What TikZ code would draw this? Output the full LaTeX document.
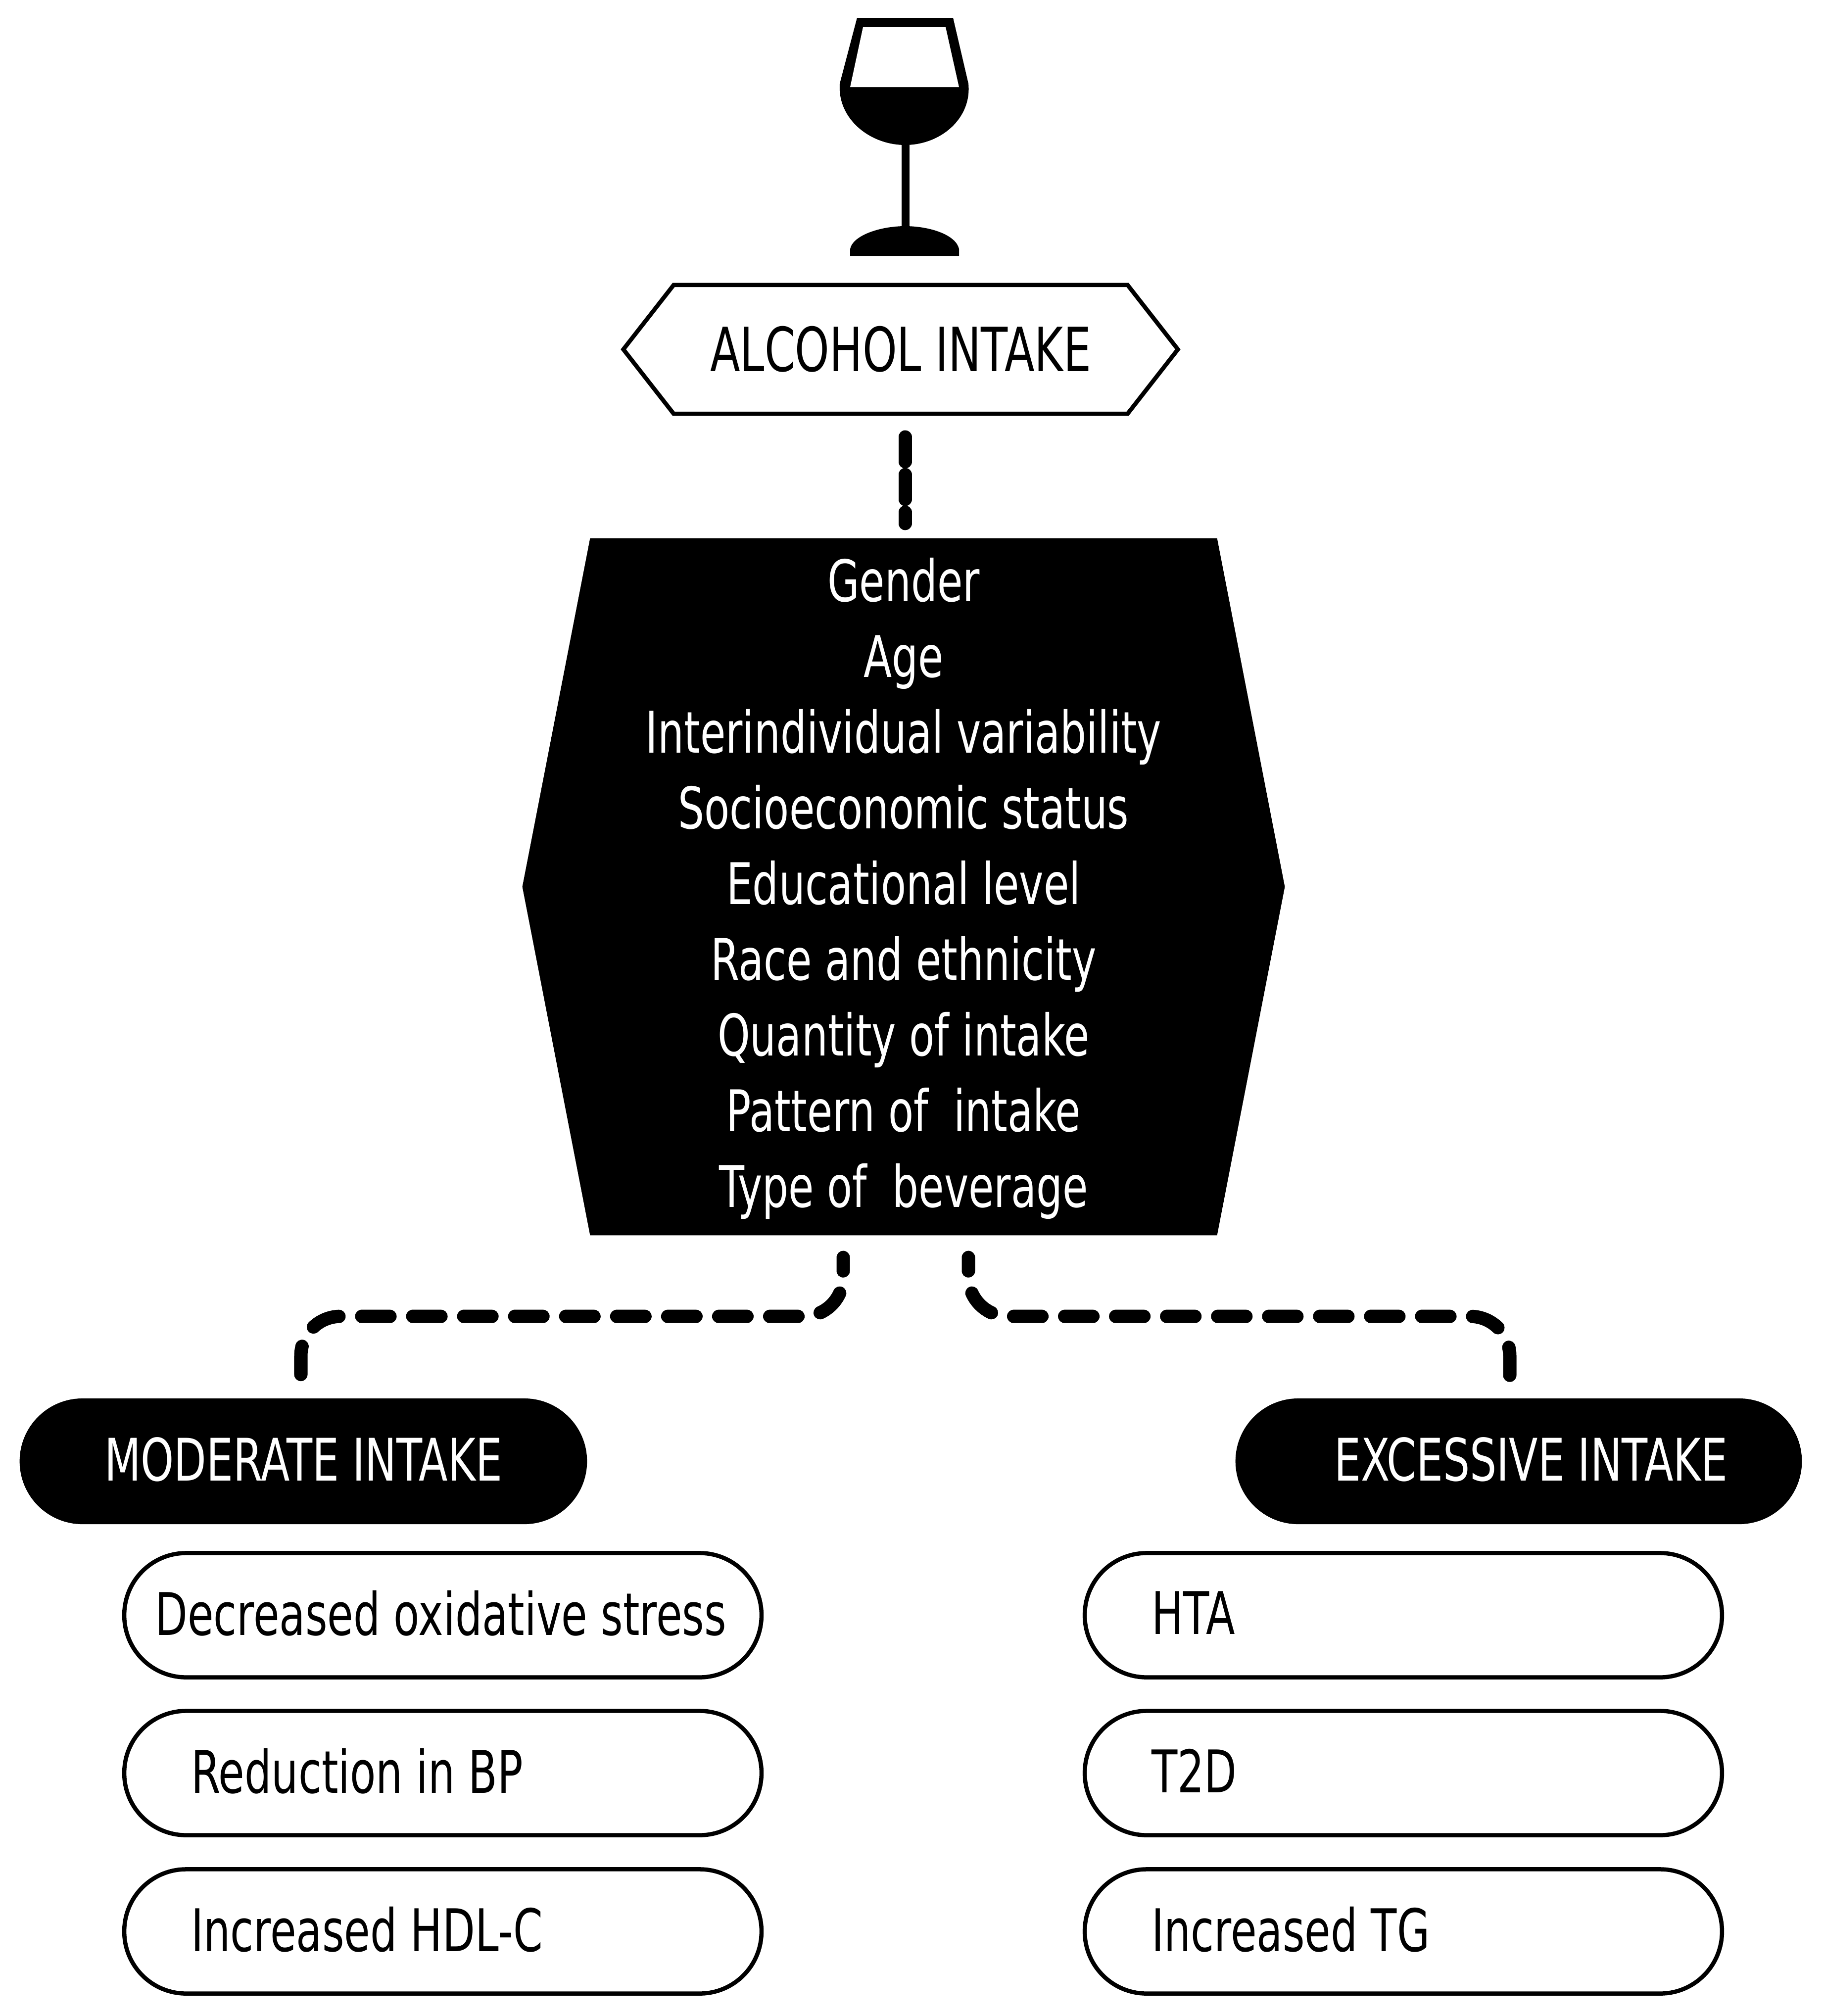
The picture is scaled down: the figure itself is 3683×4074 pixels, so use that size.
\documentclass[tikz,border=0pt]{standalone}
\usepackage{fontspec}
\setmainfont[FakeStretch=0.72]{DejaVu Sans}
\usetikzlibrary{calc}
\usetikzlibrary{shapes.misc}
\usetikzlibrary{shapes.symbols}
\newcommand{\labelfont}{\fontsize{33}{43.5}\selectfont}
\newcommand{\itemfont}{\fontsize{33.8}{43.5}\selectfont}
\newcommand{\headfont}{\fontsize{33.7}{43.5}\selectfont}
\newcommand{\topfont}{\fontsize{35}{43.5}\selectfont}
\tikzset{
	hexbox/.style={signal, signal to=east and west, inner sep=0, align=center},
	headpill/.style={rounded rectangle, fill=black, text=white, minimum height=2.54cm, inner sep=0, text depth=1mm, font=\headfont},
	itempill/.style={rectangle, draw, line width=.85mm, rounded corners=1.25cm, minimum height=2.51cm, inner ysep=0, inner xsep=#1, text width={12.87cm-2*#1}, align=flush left, text depth=1mm, font=\itemfont},
	dashlink/.style={line width=2.7mm, line cap=round, dash pattern=on .57cm off .46cm, dash phase=.3cm, rounded corners=.8cm},
}

\begin{document}
\begin{tikzpicture}[x=0.01cm,y=-0.01cm]
		\useasboundingbox (0,0) rectangle (3683,4074);
		% glass
		\fill (1732,36) -- (1926,36) -- (1957,169) .. controls (1964,240) and (1900,293) .. (1829,293) .. controls (1758,293) and (1692,240) .. (1697,169) -- cycle;
		\fill[white] (1744,55) -- (1911,55) -- (1938,176) -- (1718,176) -- cycle;
		\fill (1822,290) rectangle (1838,460);
		\fill (1718,517) -- (1718,503) .. controls (1724,475) and (1780,457) .. (1829,457) .. controls (1880,457) and (1932,475) .. (1938,503) -- (1938,517) -- cycle;
		% boxes
		\node[hexbox, draw, line width=.85mm, signal pointer angle=104, minimum width=11.2cm, minimum height=2.6cm, font=\topfont] (alcohol) at (1820,706) {ALCOHOL INTAKE};
		\node[hexbox, fill=black, text=white, signal pointer angle=158, minimum width=15.4cm, minimum height=14.08cm, font=\labelfont] (factors) at (1826,1792) {\rule{0pt}{.95cm}Gender\\Age\\Interindividual variability\\Socioeconomic status\\Educational level\\Race and ethnicity\\Quantity of intake\\Pattern of\hspace*{.25cm} intake\\Type of\hspace*{.25cm} beverage};
		\node[headpill, minimum width=11.46cm] (moderate) at (613,2953) {MODERATE INTAKE};
		\node[headpill, minimum width=11.44cm] (excessive) at (3069,2953) {\hspace*{0.5cm}EXCESSIVE INTAKE};
		\node[itempill=.62cm] (oxidative) at (895,3264) {\mbox{Decreased oxidative stress}};
		\node[itempill=1.35cm] (pressure) at (895,3583) {Reduction in BP};
		\node[itempill=1.35cm] (hdl) at (895,3903) {Increased HDL-C};
		\node[itempill=1.35cm] (hta) at (2836,3264) {HTA};
		\node[itempill=1.35cm] (diabetes) at (2836,3583) {T2D};
		\node[itempill=1.35cm] (tg) at (2836,3903) {Increased TG};
		% links
		\draw[dashlink, dash pattern=on .5cm off .26cm, dash phase=0cm, shorten <=.47cm, shorten >=.29cm] (1829,836) -- (factors.north -| 1829,0);
		\draw[dashlink, shorten <=.44cm, shorten >=.46cm] ($(factors.south)+(-122,0)$) -- ++(0,163) -| ($(moderate.north)+(-5,0)$);
		\draw[dashlink, shorten <=.44cm, shorten >=.46cm] ($(factors.south)+(131,0)$) -- ++(0,163) -| ($(excessive.north)+(-18,0)$);
		\end{tikzpicture}
\end{document}
